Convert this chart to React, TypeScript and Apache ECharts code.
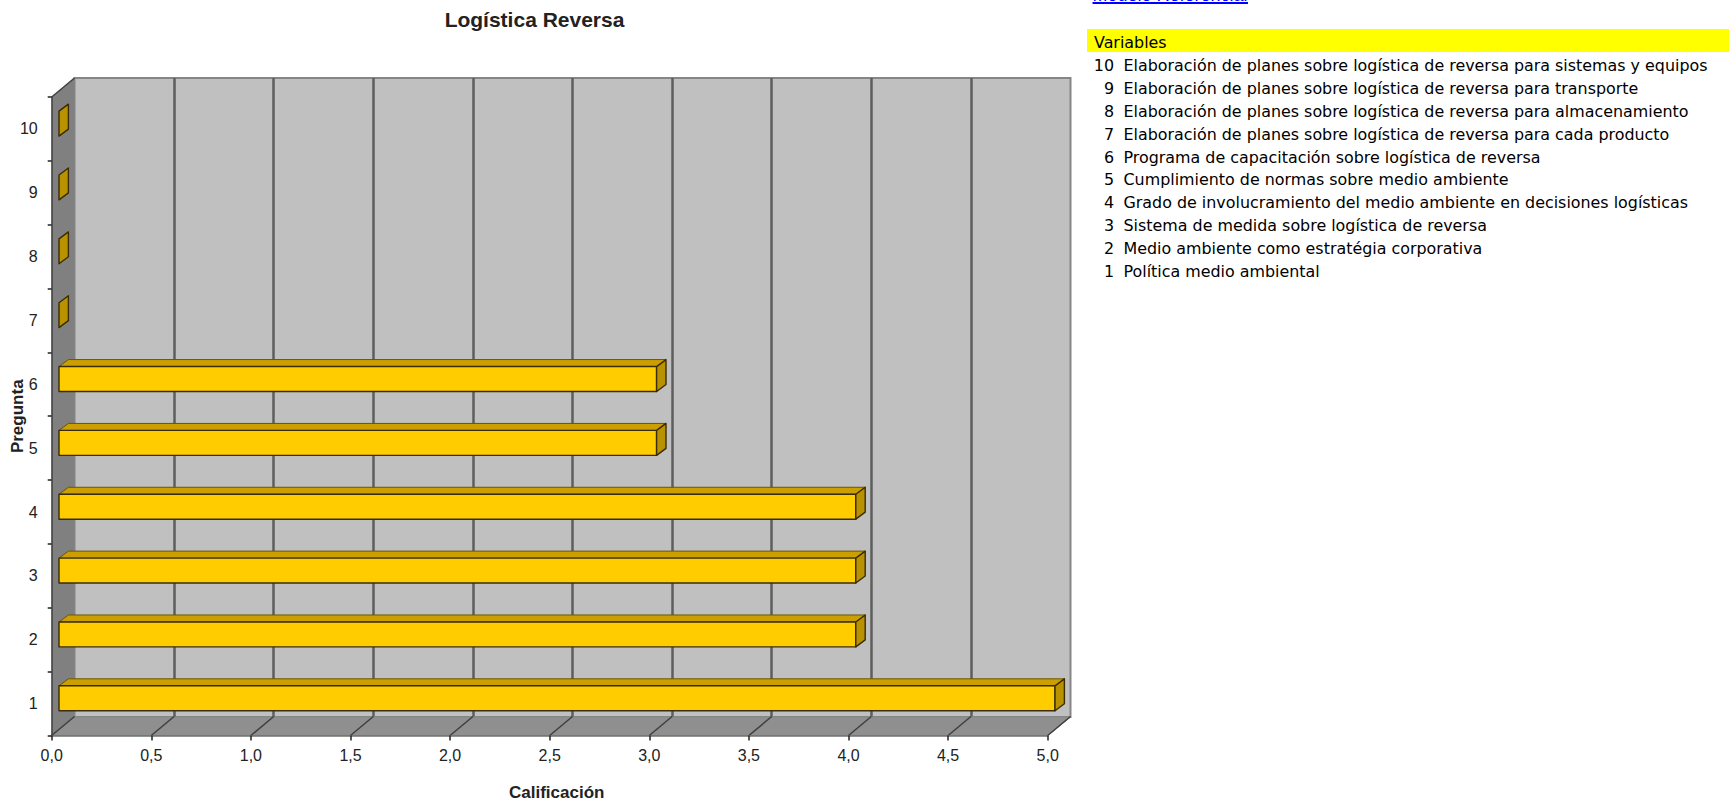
import React, { useEffect, useRef } from "react";
import * as echarts from "echarts";

const categories = ["1", "2", "3", "4", "5", "6", "7", "8", "9", "10"];
const scores = [5, 4, 4, 4, 3, 3, 0, 0, 0, 0];
const valueTicks = [0, 0.5, 1, 1.5, 2, 2.5, 3, 3.5, 4, 4.5, 5];
const chartTitle = "Logística Reversa";
const xTitle = "Calificación";
const yTitle = "Pregunta";
const linkText = "Modelo Referencial";
const tableHeader = "Variables";
const variableNumbers = ["10", "9", "8", "7", "6", "5", "4", "3", "2", "1"];
const variableNames = [
  "Elaboración de planes sobre logística de reversa para sistemas y equipos",
  "Elaboración de planes sobre logística de reversa para transporte",
  "Elaboración de planes sobre logística de reversa para almacenamiento",
  "Elaboración de planes sobre logística de reversa para cada producto",
  "Programa de capacitación sobre logística de reversa",
  "Cumplimiento de normas sobre medio ambiente",
  "Grado de involucramiento del medio ambiente en decisiones logísticas",
  "Sistema de medida sobre logística de reversa",
  "Medio ambiente como estratégia corporativa",
  "Política medio ambiental",
];

const FONT = "'Liberation Sans', Arial, sans-serif";
const TABLE_FONT = "'DejaVu Sans', sans-serif";
const front = { left: 51.7, top: 97, width: 996, height: 638.5 };
const back = { left: 74.5, top: 78, width: 996, height: 639 };
const DX = back.left - front.left;
const DY = front.top - back.top;

export default function App() {
  const ref = useRef<HTMLDivElement>(null);
  useEffect(() => {
    const chart = echarts.init(ref.current!, undefined, { renderer: "svg" });
    const line = { stroke: "#3f3f3f", lineWidth: 1.5 };
    const graphic: any[] = [
      {
        type: "polygon",
        z: 1,
        shape: { points: [[front.left, front.top], [back.left, back.top], [back.left, back.top + back.height], [front.left, front.top + front.height]] },
        style: { fill: "#808080" },
      },
      {
        type: "polygon",
        z: 1,
        shape: { points: [[back.left, back.top + back.height], [back.left + back.width, back.top + back.height], [front.left + front.width, front.top + front.height], [front.left, front.top + front.height]] },
        style: { fill: "#8f8f8f", stroke: "#888888", lineWidth: 1 },
      },
      {
        type: "line",
        z: 2,
        shape: { x1: front.left, y1: front.top, x2: back.left, y2: back.top },
        style: line,
      },
      { type: "rect", z: 1, shape: { x: 1087, y: 29, width: 642, height: 23 }, style: { fill: "#ffff00" } },
      {
        type: "text",
        z: 3,
        x: 1094,
        y: 42.5,
        style: { text: tableHeader, font: `15.9px ${TABLE_FONT}`, fill: "#000", verticalAlign: "middle" },
      },
      {
        type: "text",
        z: 3,
        x: 1092.5,
        y: -5,
        style: { text: linkText, font: `18px ${FONT}`, fill: "#0000ff", verticalAlign: "middle" },
      },
      { type: "rect", z: 3, shape: { x: 1092.5, y: 2, width: 155.5, height: 2 }, style: { fill: "#0000ff" } },
    ];
    variableNumbers.forEach((n, i) => {
      const y = 65.4 + i * 22.9;
      graphic.push({
        type: "text",
        z: 3,
        x: 1114,
        y,
        style: { text: n, font: `15.9px ${TABLE_FONT}`, fill: "#000", align: "right", verticalAlign: "middle" },
      });
      graphic.push({
        type: "text",
        z: 3,
        x: 1123.5,
        y,
        style: { text: variableNames[i], font: `15.9px ${TABLE_FONT}`, fill: "#000", verticalAlign: "middle" },
      });
    });

    chart.setOption({
      animation: false,
      title: {
        text: chartTitle,
        left: 529.5,
        top: 4,
        textAlign: "center",
        textStyle: { fontFamily: FONT, fontSize: 21, fontWeight: "bold", color: "#222" },
      },
      grid: [
        { ...front, containLabel: false, outerBoundsMode: "none" },
        { ...back, show: true, backgroundColor: "#c0c0c0", borderColor: "#868686", borderWidth: 2, outerBoundsMode: "none" },
      ],
      xAxis: [
        {
          gridIndex: 0,
          type: "value",
          min: 0,
          max: 5,
          interval: 0.5,
          z: 8,
          name: xTitle,
          nameLocation: "middle",
          nameGap: 48,
          nameTextStyle: { fontFamily: FONT, fontSize: 17, fontWeight: "bold", color: "#222", padding: [0, 0, 0, 14] },
          axisLine: { show: true, lineStyle: { color: "#707070", width: 1.5 } },
          axisTick: { show: true, length: 5, lineStyle: { color: "#222", width: 1.5 } },
          axisLabel: {
            margin: 12,
            fontFamily: FONT,
            fontSize: 16,
            color: "#222",
            showMinLabel: true,
            showMaxLabel: true,
            formatter: (v: number) => v.toFixed(1).replace(".", ","),
          },
          splitLine: { show: false },
        },
        {
          gridIndex: 1,
          type: "value",
          min: 0,
          max: 5,
          interval: 0.5,
          axisLine: { show: false },
          axisTick: { show: false },
          axisLabel: { show: false },
          splitLine: { show: true, showMinLine: false, showMaxLine: false, lineStyle: { color: "#5e5e5e", width: 2.5 } },
        },
      ],
      yAxis: [
        {
          gridIndex: 0,
          type: "category",
          data: categories,
          z: 8,
          name: yTitle,
          nameLocation: "middle",
          nameGap: 26,
          nameMoveOverlap: false,
          nameTextStyle: { fontFamily: FONT, fontSize: 17, fontWeight: "bold", color: "#222" },
          axisLine: { show: true, lineStyle: { color: "#3f3f3f", width: 1.5 } },
          axisTick: { show: true, length: 4, lineStyle: { color: "#222", width: 1.5 } },
          axisLabel: { margin: 14, fontFamily: FONT, fontSize: 16, color: "#222", interval: 0 },
          splitLine: { show: false },
        },
        { gridIndex: 1, type: "category", data: categories, show: false },
      ],
      series: [
        {
          type: "custom",
          name: "Base",
          xAxisIndex: 0,
          yAxisIndex: 0,
          z: 5,
          silent: true,
          clip: false,
          encode: { x: 0 },
          data: valueTicks.map((v) => [v, 0]),
          renderItem: (_p: any, api: any) => {
            const c = api.coord([api.value(0), 0]);
            const y = front.top + front.height;
            return {
              type: "line",
              shape: { x1: c[0], y1: y, x2: c[0] + DX, y2: y - DY },
              style: line,
            };
          },
        },
        {
          type: "custom",
          name: "Calificación",
          xAxisIndex: 0,
          yAxisIndex: 0,
          z: 6,
          clip: false,
          encode: { x: 0, y: 1 },
          data: scores.map((v, i) => [v, i]),
          renderItem: (_p: any, api: any) => {
            const i = api.value(1);
            const start = api.coord([0, i]);
            const end = api.coord([api.value(0), i]);
            const h = api.size([0, 1])[1] * 0.39;
            const ox = 7.3;
            const oy = -5.3;
            const depthX = 9.4;
            const depthY = 7;
            const x0 = start[0] + ox;
            const x1 = end[0] + ox;
            const yt = start[1] + oy - h / 2;
            const yb = yt + h;
            const edge = { stroke: "#3a2c00", lineWidth: 1.4, lineJoin: "round" };
            const children: any[] = [];
            if (x1 > x0) {
              children.push({
                type: "polygon",
                shape: { points: [[x0, yt], [x0 + depthX, yt - depthY], [x1 + depthX, yt - depthY], [x1, yt]] },
                style: { fill: "#cc9f00", ...edge, stroke: "#6b5500", lineWidth: 1 },
              });
              children.push({
                type: "rect",
                shape: { x: x0, y: yt, width: x1 - x0, height: h },
                style: { fill: "#ffcc00", ...edge },
              });
            }
            children.push({
              type: "polygon",
              shape: { points: [[x1, yt], [x1 + depthX, yt - depthY], [x1 + depthX, yb - depthY], [x1, yb]] },
              style: { fill: "#b89200", ...edge },
            });
            return { type: "group", children };
          },
        },
      ],
      graphic,
    });
    return () => chart.dispose();
  }, []);
  return (
    <div
      ref={ref}
      style={{ position: "fixed", left: 0, top: 0, width: 1729, height: 800, background: "#fff", overflow: "hidden" }}
    />
  );
}
